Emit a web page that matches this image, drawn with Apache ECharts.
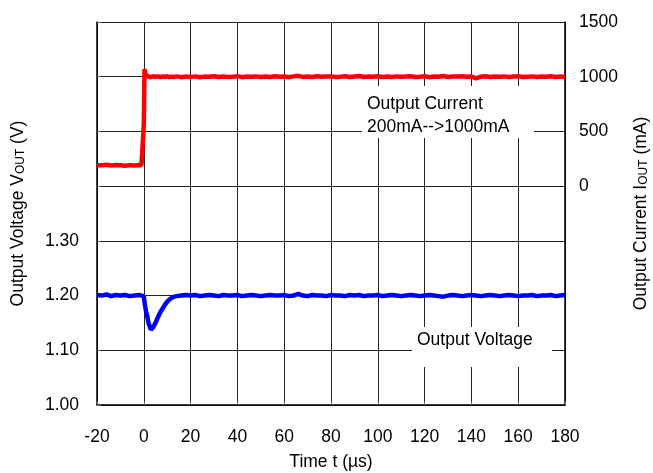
<!DOCTYPE html>
<html>
<head>
<meta charset="utf-8">
<script src="https://cdn.jsdelivr.net/npm/echarts@6/dist/echarts.min.js"></script>
<style>
  html, body { margin: 0; padding: 0; background: #fff; }
  #main { width: 653px; height: 473px; }
</style>
</head>
<body>
<div id="main"></div>
<script>
// time axis (us), shared by both traces
var timeUs = [-20, -18, -16, -14, -12, -10, -8, -6, -4, -2, -1, -0.6, 0, 0.3, 0.6, 1, 1.5, 2, 3, 4, 5, 6, 7, 8, 9, 10, 11, 12, 13, 14, 16, 18,
  20, 22, 24, 26, 28, 30, 32, 34, 36, 38, 40, 42, 44, 46, 48, 50, 52, 54, 56, 58, 60, 62, 64, 66, 68, 70, 72, 74, 76, 78,
  80, 82, 84, 86, 88, 90, 92, 94, 96, 98, 100, 102, 104, 106, 108, 110, 112, 114, 116, 118, 120, 122, 124, 126, 128, 130,
  132, 134, 136, 138, 140, 142, 144, 146, 148, 150, 152, 154, 156, 158, 160, 162, 164, 166, 168, 170, 172, 174, 176, 178, 180];

// output voltage (V)
var voltage = [1.201, 1.200, 1.202, 1.199, 1.201, 1.200, 1.201, 1.199, 1.200, 1.201, 1.200, 1.201, 1.199, 1.188, 1.180, 1.170, 1.162, 1.150, 1.138, 1.142, 1.150, 1.160, 1.169, 1.176, 1.183, 1.189, 1.193, 1.196, 1.198, 1.199, 1.200, 1.201,
  1.200, 1.201, 1.199, 1.200, 1.201, 1.200, 1.199, 1.201, 1.200, 1.200, 1.201, 1.199, 1.200, 1.201, 1.200, 1.199, 1.200, 1.201, 1.200, 1.200, 1.201, 1.199, 1.200, 1.203, 1.200, 1.199, 1.201, 1.200, 1.200, 1.199,
  1.201, 1.200, 1.200, 1.199, 1.201, 1.200, 1.201, 1.199, 1.200, 1.200, 1.201, 1.199, 1.200, 1.201, 1.200, 1.199, 1.200, 1.201, 1.200, 1.199, 1.200, 1.201, 1.200, 1.199, 1.198, 1.200, 1.201, 1.200,
  1.199, 1.200, 1.201, 1.200, 1.199, 1.200, 1.201, 1.200, 1.199, 1.200, 1.201, 1.200, 1.199, 1.200, 1.200, 1.201, 1.199, 1.200, 1.200, 1.201, 1.199, 1.200, 1.201, 1.200, 1.199, 1.200, 1.200];

// output current (mA)
var current = [192, 190, 195, 188, 193, 190, 186, 192, 189, 193, 191, 195, 560, 1070, 1030, 1015, 1005, 1000, 995, 1005, 998, 1003, 996, 1002, 999, 1004, 997, 1001, 998, 1003, 996, 1002,
  998, 1003, 995, 1001, 999, 1004, 997, 1002, 998, 1000, 1005, 996, 1001, 999, 1003, 997, 1002, 998, 1004, 999, 1001, 996, 1003, 1008, 998, 1002, 997, 1004, 999, 1001,
  1003, 997, 1000, 1005, 998, 1002, 1006, 997, 1001, 999, 1004, 998, 1002, 997, 1003, 999, 1001, 1005, 998, 1000, 1004, 996, 1002, 999, 1006, 998, 1001, 1003,
  1005, 999, 1002, 985, 1000, 1004, 997, 1002, 999, 1003, 998, 1001, 1004, 997, 1000, 1003, 998, 1002, 999, 1005, 997, 1001, 998, 1003, 1000];

var voltTicks = ['1.00', '1.10', '1.20', '1.30'];
var currentTicks = [0, 500, 1000, 1500];

function zip(xs, ys) {
  var out = [];
  for (var i = 0; i < xs.length; i++) out.push([xs[i], ys[i]]);
  return out;
}

var font = "'Liberation Sans', Arial, sans-serif";
var fs = 17.5;
var myChart = echarts.init(document.getElementById('main'));

var option = {
  animation: false,
  textStyle: { fontFamily: font },
  grid: { left: 97, right: 88, top: 22, bottom: 68, outerBoundsMode: 'none', containLabel: false },
  xAxis: {
    type: 'value',
    min: -20, max: 180, interval: 20,
    name: 'Time t (µs)',
    nameLocation: 'middle',
    nameGap: 48,
    nameTextStyle: { fontSize: fs, color: '#000', fontFamily: font },
    axisLine: { onZero: false, lineStyle: { color: '#000', width: 1.5 } },
    axisTick: { inside: true, length: 4, lineStyle: { color: '#666' } },
    axisLabel: { fontSize: fs, color: '#000', margin: 23, fontFamily: font },
    splitLine: { show: true, lineStyle: { color: '#222', width: 1 } }
  },
  yAxis: [
    {
      type: 'value',
      min: 1.0, max: 1.7, interval: 0.1,
      name: 'Output Voltage V{sub|OUT} (V)',
      nameLocation: 'middle',
      nameRotate: 90,
      nameGap: 70,
      nameTextStyle: {
        fontSize: fs, color: '#000', fontFamily: font,
        rich: { sub: { fontSize: 12, color: '#000', fontFamily: font, verticalAlign: 'bottom' } }
      },
      axisLine: { show: true, onZero: false, lineStyle: { color: '#000', width: 1.5 } },
      axisTick: { inside: true, length: 4, lineStyle: { color: '#666' } },
      axisLabel: {
        fontSize: fs, color: '#000', margin: 18, fontFamily: font,
        formatter: function (v) {
          var s = v.toFixed(2);
          return voltTicks.indexOf(s) >= 0 ? s : '';
        }
      },
      splitLine: { show: true, lineStyle: { color: '#222', width: 1 } }
    },
    {
      type: 'value',
      min: -2000, max: 1500, interval: 500,
      position: 'right',
      name: 'Output Current I{sub|OUT} (mA)',
      nameLocation: 'middle',
      nameRotate: 90,
      nameGap: 67,
      nameTextStyle: {
        fontSize: fs, color: '#000', fontFamily: font,
        rich: { sub: { fontSize: 12, color: '#000', fontFamily: font, verticalAlign: 'bottom' } }
      },
      axisLine: { show: true, onZero: false, lineStyle: { color: '#000', width: 1.5 } },
      axisTick: { show: false },
      axisLabel: {
        fontSize: fs, color: '#000', margin: 14, fontFamily: font,
        formatter: function (v) { return currentTicks.indexOf(v) >= 0 ? String(v) : ''; }
      },
      splitLine: { show: false }
    }
  ],
  graphic: [
    { type: 'rect', z: 50, shape: { x: 362, y: 86, width: 172, height: 52 }, style: { fill: '#fff' } },
    { type: 'text', z: 51, x: 367, y: 95, style: { text: 'Output Current', fontSize: fs, fontFamily: font, fill: '#000' } },
    { type: 'text', z: 51, x: 367, y: 118, style: { text: '200mA-->1000mA', fontSize: fs, fontFamily: font, fill: '#000' } },
    { type: 'rect', z: 50, shape: { x: 412, y: 327, width: 140, height: 40 }, style: { fill: '#fff' } },
    { type: 'text', z: 51, x: 417, y: 331, style: { text: 'Output Voltage', fontSize: fs, fontFamily: font, fill: '#000' } }
  ],
  series: [
    {
      name: 'Output Current',
      type: 'line',
      yAxisIndex: 1,
      showSymbol: false,
      lineStyle: { color: '#ff0000', width: 4.5 },
      data: zip(timeUs, current),
      z: 5
    },
    {
      name: 'Output Voltage',
      type: 'line',
      yAxisIndex: 0,
      showSymbol: false,
      lineStyle: { color: '#0000ff', width: 4.5 },
      data: zip(timeUs, voltage),
      z: 5
    }
  ]
};

option && myChart.setOption(option);
</script>
</body>
</html>
